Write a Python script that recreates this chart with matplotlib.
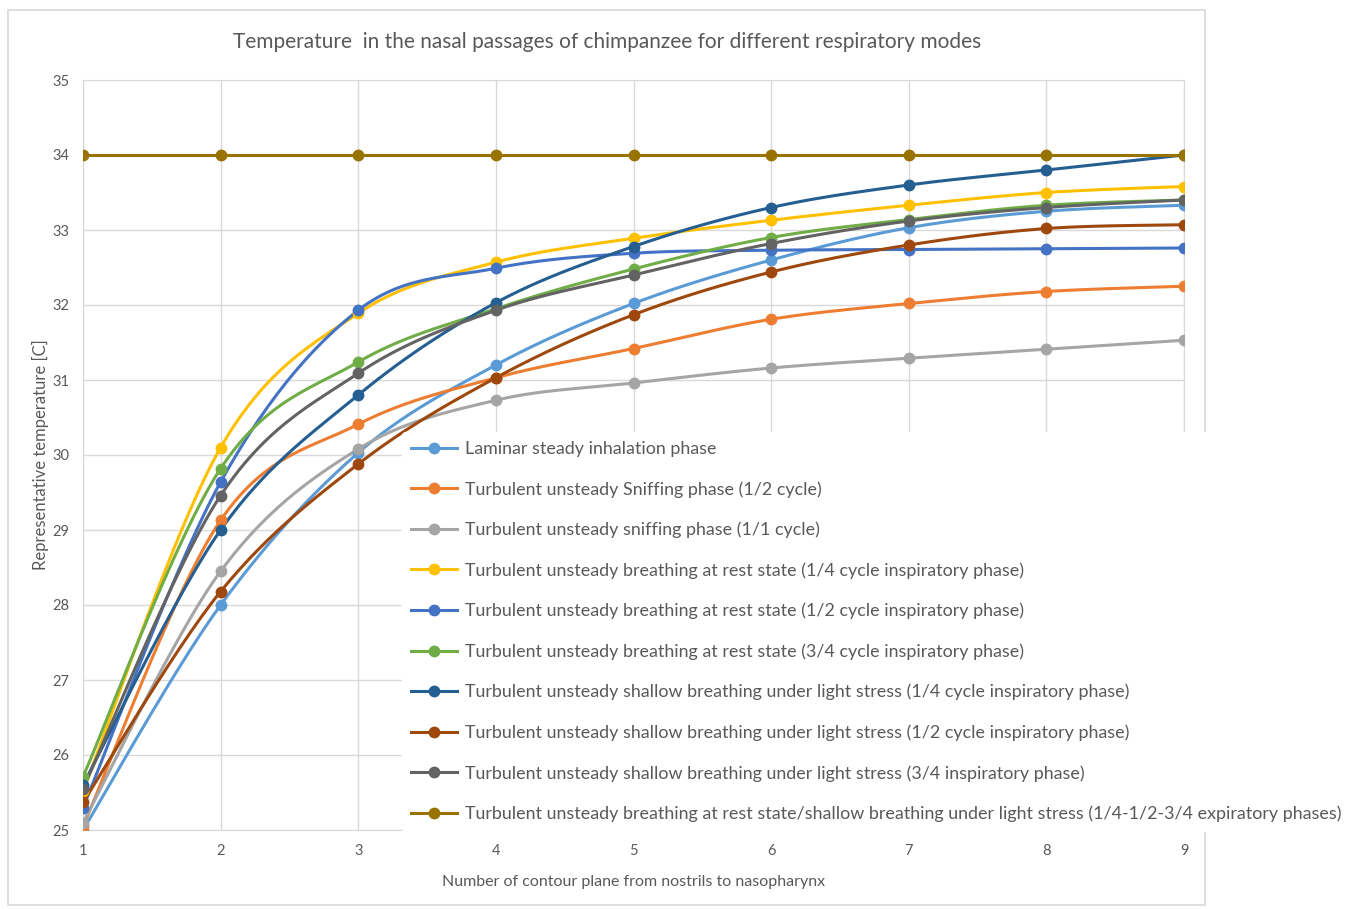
import matplotlib.pyplot as plt
import numpy as np
from matplotlib.patches import Rectangle

plt.rcParams['font.family'] = ['Lato', 'DejaVu Sans']

col_text = '#595959'
col_grid = '#D9D9D9'

planes = [1, 2, 3, 4, 5, 6, 7, 8, 9]

labels = [
    'Laminar steady inhalation phase',
    'Turbulent unsteady Sniffing phase (1/2 cycle)',
    'Turbulent unsteady sniffing phase (1/1 cycle)',
    'Turbulent unsteady breathing at rest state (1/4 cycle inspiratory phase)',
    'Turbulent unsteady breathing at rest state (1/2 cycle inspiratory phase)',
    'Turbulent unsteady breathing at rest state (3/4 cycle inspiratory phase)',
    'Turbulent unsteady shallow breathing under light stress (1/4 cycle inspiratory phase)',
    'Turbulent unsteady shallow breathing under light stress (1/2 cycle inspiratory phase)',
    'Turbulent unsteady shallow breathing under light stress (3/4 inspiratory phase)',
    'Turbulent unsteady breathing at rest state/shallow breathing under light stress (1/4-1/2-3/4 expiratory phases)',
]

laminar = [25.0, 28.0, 30.03, 31.2, 32.02, 32.6, 33.03, 33.25, 33.33]
sniff_half = [25.05, 29.13, 30.41, 31.03, 31.42, 31.81, 32.02, 32.18, 32.25]
sniff_full = [25.1, 28.45, 30.08, 30.73, 30.96, 31.16, 31.29, 31.41, 31.53]
rest_q1 = [25.52, 30.1, 31.89, 32.57, 32.89, 33.13, 33.33, 33.5, 33.58]
rest_q2 = [25.3, 29.64, 31.93, 32.49, 32.69, 32.73, 32.74, 32.75, 32.76]
rest_q3 = [25.71, 29.82, 31.24, 31.95, 32.48, 32.9, 33.14, 33.33, 33.4]
shallow_q1 = [25.6, 29.0, 30.8, 32.03, 32.78, 33.3, 33.6, 33.8, 34.0]
shallow_q2 = [25.37, 28.18, 29.88, 31.03, 31.87, 32.44, 32.8, 33.02, 33.07]
shallow_q3 = [25.55, 29.46, 31.09, 31.93, 32.4, 32.82, 33.12, 33.3, 33.4]
expiratory = [34.0, 34.0, 34.0, 34.0, 34.0, 34.0, 34.0, 34.0, 34.0]

series = [laminar, sniff_half, sniff_full, rest_q1, rest_q2, rest_q3,
          shallow_q1, shallow_q2, shallow_q3, expiratory]
colors = ['#5B9BD5', '#ED7D31', '#A5A5A5', '#FFC000', '#4472C4',
          '#70AD47', '#255E91', '#9E480E', '#636363', '#997300']


def smooth(x, y, n=30):
    # Excel-like smoothed line: cubic Bezier through the points (Catmull-Rom tangents)
    x = np.asarray(x, float)
    y = np.asarray(y, float)
    px = np.concatenate([[x[0]], x, [x[-1]]])
    py = np.concatenate([[y[0]], y, [y[-1]]])
    xs, ys = [], []
    t = np.linspace(0, 1, n)
    for i in range(len(x) - 1):
        p0 = np.array([px[i + 1], py[i + 1]])
        p3 = np.array([px[i + 2], py[i + 2]])
        p1 = p0 + (np.array([px[i + 2], py[i + 2]]) - np.array([px[i], py[i]])) / 6
        p2 = p3 - (np.array([px[i + 3], py[i + 3]]) - np.array([px[i + 1], py[i + 1]])) / 6
        b = ((1 - t) ** 3)[:, None] * p0 + (3 * (1 - t) ** 2 * t)[:, None] * p1 \
            + (3 * (1 - t) * t ** 2)[:, None] * p2 + (t ** 3)[:, None] * p3
        xs.extend(b[:, 0])
        ys.extend(b[:, 1])
    return np.array(xs), np.array(ys)


fig = plt.figure(figsize=(13.66, 9.09), dpi=100)
ax = fig.add_axes([83 / 1366, 1 - 830 / 909, (1184 - 83) / 1366, (830 - 80) / 909])

# outer chart border
fig.patches.append(Rectangle((8 / 1366, 1 - 905 / 909), (1205 - 8) / 1366, (905 - 10) / 909,
                             transform=fig.transFigure, fill=False, edgecolor='#D9D9D9', lw=1.2))

handles = []
for vals, c, lab in zip(series, colors, labels):
    sx, sy = smooth(planes, vals)
    ax.plot(sx, sy, color=c, lw=2.2, zorder=3, solid_capstyle='round')
    ax.plot(planes, vals, 'o', color=c, ms=7.5, zorder=4)
    handles.append(ax.plot([], [], '-o', color=c, lw=2.2, ms=7.5)[0])

ax.set_xlim(1, 9)
ax.set_ylim(25, 35)
ax.set_xticks(planes)
ax.set_yticks(range(25, 36))
ax.grid(True, color=col_grid, lw=1, zorder=0)
for s in ax.spines.values():
    s.set_color(col_grid)
ax.tick_params(colors=col_text, labelsize=10.5, length=0, pad=10)

ax.set_xlabel('Number of contour plane from nostrils to nasopharynx', fontsize=11.5, color=col_text, labelpad=12)
ax.set_ylabel('Representative temperature [C]', fontsize=12, color=col_text, labelpad=2)
fig.text(607 / 1366, 1 - 42 / 909, 'Temperature  in the nasal passages of chimpanzee for different respiratory modes',
         ha='center', va='center', fontsize=15, color=col_text)

leg = fig.legend(handles, labels, loc='upper left', bbox_to_anchor=(402 / 1366, 1 - 432 / 909),
                 frameon=True, fontsize=12.9, labelcolor=col_text, handlelength=2.55,
                 labelspacing=1.34, borderaxespad=0, handletextpad=0.45, borderpad=0.5)
leg.get_frame().set_facecolor('white')
leg.get_frame().set_edgecolor('white')
leg.get_frame().set_alpha(1)
leg.set_zorder(2)

fig.savefig('out.png', dpi=100)
